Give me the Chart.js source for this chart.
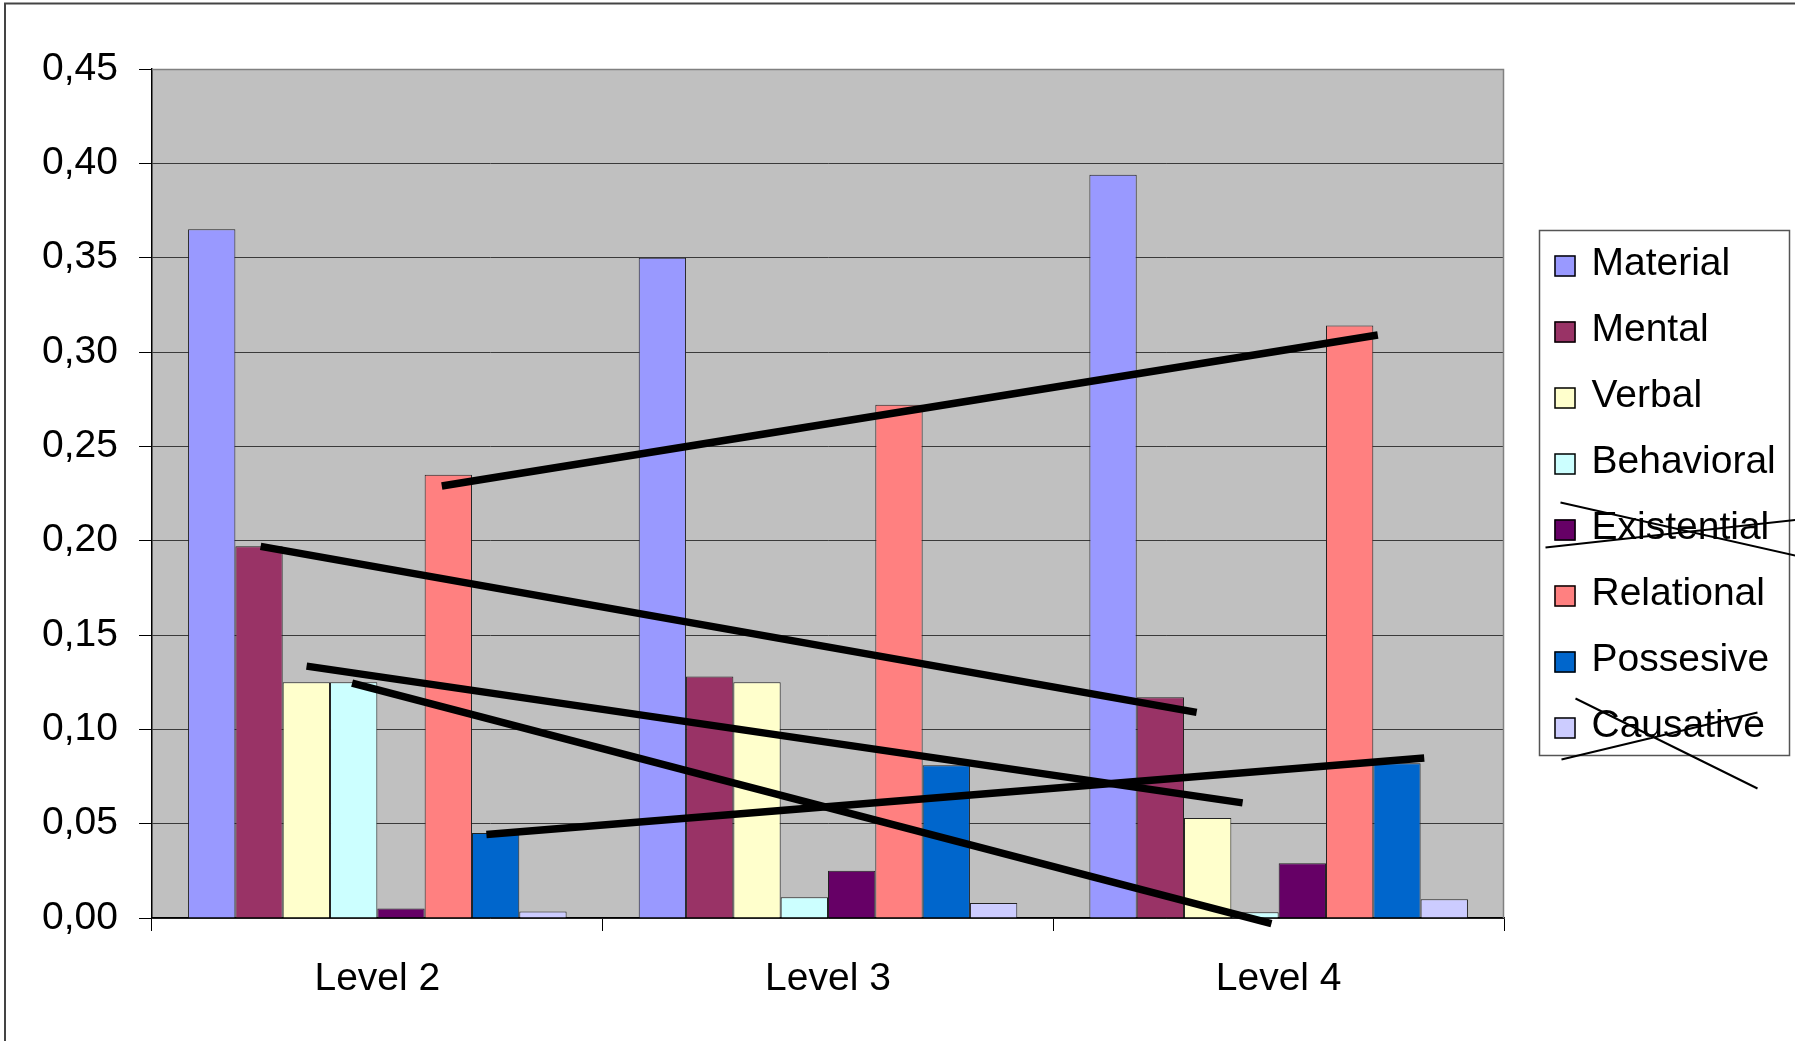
<!DOCTYPE html>
<html>
<head>
<meta charset="utf-8">
<title>Process types by level</title>
<script src="https://cdn.jsdelivr.net/npm/chart.js@4.4.0/dist/chart.umd.min.js"></script>
<style>
  html, body { margin: 0; padding: 0; background: #ffffff; }
  #wrap { position: relative; width: 1795px; height: 1041px; overflow: hidden; }
  canvas { display: block; }
</style>
</head>
<body>
<div id="wrap"><canvas id="chart" width="1795" height="1041" style="width:1795px;height:1041px"></canvas></div>
<script>
// ---- data ----
const categories = ['Level 2', 'Level 3', 'Level 4'];

const material    = [0.365, 0.350, 0.394];
const mental      = [0.197, 0.128, 0.117];
const verbal      = [0.125, 0.125, 0.053];
const behavioral  = [0.125, 0.011, 0.003];
const existential = [0.005, 0.025, 0.029];
const relational  = [0.235, 0.272, 0.314];
const possesive   = [0.045, 0.081, 0.082];
const causative   = [0.0035, 0.008, 0.010];

const seriesNames  = ['Material', 'Mental', 'Verbal', 'Behavioral', 'Existential', 'Relational', 'Possesive', 'Causative'];
const seriesValues = [material, mental, verbal, behavioral, existential, relational, possesive, causative];
const seriesColors = ['#9999FF', '#993366', '#FFFFCC', '#CCFFFF', '#660066', '#FF8080', '#0066CC', '#CCCCFF'];

const yTicks = [0, 0.05, 0.10, 0.15, 0.20, 0.25, 0.30, 0.35, 0.40, 0.45];

// Hand-drawn trend strokes: endpoints as [category position, value]
const trendRelational = [[0.143, 0.229], [2.220, 0.309]];
const trendMental     = [[-0.259, 0.197], [1.818, 0.109]];
const trendVerbal     = [[-0.157, 0.1335], [1.920, 0.061]];
const trendBehavioral = [[-0.056, 0.1245], [1.984, -0.003]];
const trendPossesive  = [[0.242, 0.0443], [2.323, 0.0848]];
const trendLines = [trendRelational, trendMental, trendVerbal, trendBehavioral, trendPossesive];

// Legend entries that are crossed out
const struckItems = ['Existential', 'Causative'];

// ---- drawing ----
const FONT = "'Liberation Sans', Arial, sans-serif";

const frameAndBackground = {
  id: 'frameAndBackground',
  beforeDraw(chart) {
    const { ctx, chartArea: a } = chart;
    ctx.save();
    ctx.fillStyle = '#ffffff';
    ctx.fillRect(0, 0, chart.width, chart.height);
    // outer chart frame (left and top edges visible)
    ctx.strokeStyle = '#444444';
    ctx.lineWidth = 2;
    ctx.beginPath();
    ctx.moveTo(5, chart.height + 5);
    ctx.lineTo(5, 3.5);
    ctx.lineTo(chart.width + 5, 3.5);
    ctx.stroke();
    // plot area fill
    ctx.fillStyle = '#C0C0C0';
    ctx.fillRect(a.left, a.top, a.right - a.left, a.bottom - a.top);
    ctx.restore();
  },
  afterDatasetsDraw(chart) {
    const { ctx, chartArea: a } = chart;
    ctx.save();
    ctx.strokeStyle = '#808080';
    ctx.lineWidth = 1.5;
    ctx.beginPath();
    ctx.moveTo(a.left, a.top + 0.5);
    ctx.lineTo(a.right - 0.5, a.top + 0.5);
    ctx.lineTo(a.right - 0.5, a.bottom);
    ctx.stroke();
    ctx.restore();
  }
};

const trendStrokes = {
  id: 'trendStrokes',
  afterDatasetsDraw(chart) {
    const { ctx } = chart;
    const xs = chart.scales.x, ys = chart.scales.y;
    ctx.save();
    ctx.strokeStyle = '#000000';
    ctx.lineWidth = 7.5;
    ctx.lineCap = 'butt';
    trendLines.forEach(seg => {
      ctx.beginPath();
      ctx.moveTo(xs.getPixelForValue(seg[0][0]), ys.getPixelForValue(seg[0][1]));
      ctx.lineTo(xs.getPixelForValue(seg[1][0]), ys.getPixelForValue(seg[1][1]));
      ctx.stroke();
    });
    ctx.restore();
  }
};

const boxedLegend = {
  id: 'boxedLegend',
  afterDraw(chart) {
    const { ctx, chartArea: a } = chart;
    const left = a.right + 35.5, top = a.top + 161.5;
    const width = 250, height = 525;
    const rowGap = 66, firstRow = 35;
    ctx.save();
    ctx.fillStyle = '#ffffff';
    ctx.fillRect(left, top, width, height);
    ctx.strokeStyle = '#555555';
    ctx.lineWidth = 1.5;
    ctx.strokeRect(left, top, width, height);

    ctx.font = '39px ' + FONT;
    ctx.textBaseline = 'middle';
    ctx.textAlign = 'left';
    chart.data.datasets.forEach((ds, i) => {
      const cy = top + firstRow + i * rowGap;
      ctx.fillStyle = ds.backgroundColor;
      ctx.fillRect(left + 15, cy - 10, 21, 21);
      ctx.strokeStyle = '#000000';
      ctx.lineWidth = 1.5;
      ctx.strokeRect(left + 15.5, cy - 9.5, 20, 20);
      ctx.fillStyle = '#000000';
      ctx.fillText(ds.label, left + 52, cy - 1);

      if (struckItems.includes(ds.label)) {
        ctx.strokeStyle = '#000000';
        ctx.lineWidth = 2;
        ctx.beginPath();
        if (ds.label === 'Existential') {
          ctx.moveTo(left + 21, cy - 27); ctx.lineTo(left + 260, cy + 27);
          ctx.moveTo(left + 6, cy + 18);  ctx.lineTo(left + 260, cy - 10);
        } else {
          ctx.moveTo(left + 36, cy - 29); ctx.lineTo(left + 218, cy + 61);
          ctx.moveTo(left + 22, cy + 32); ctx.lineTo(left + 218, cy - 15);
        }
        ctx.stroke();
      }
    });
    ctx.restore();
  }
};

const datasets = seriesNames.map((name, i) => ({
  label: name,
  data: seriesValues[i],
  backgroundColor: seriesColors[i],
  borderColor: '#222222',
  borderWidth: 1,
  borderSkipped: 'start',
  categoryPercentage: 0.84,
  barPercentage: 1.0
}));

new Chart(document.getElementById('chart'), {
  type: 'bar',
  data: { labels: categories, datasets },
  options: {
    responsive: false,
    animation: false,
    devicePixelRatio: 1,
    layout: { padding: { left: 0, top: 69, right: 291, bottom: 0 } },
    plugins: {
      legend: { display: false },
      tooltip: { enabled: false },
      title: { display: false }
    },
    scales: {
      x: {
        offset: true,
        grid: { offset: true, drawOnChartArea: false, drawTicks: true, tickLength: 13, color: '#000000', lineWidth: 1 },
        border: { display: true, color: '#000000', width: 1.5 },
        ticks: { color: '#000000', padding: 25, font: { family: FONT, size: 39 }, maxRotation: 0 },
        afterFit(scale) { scale.height = 123; }
      },
      y: {
        min: 0,
        max: 0.45,
        afterBuildTicks(scale) { scale.ticks = yTicks.map(v => ({ value: v })); },
        ticks: {
          color: '#000000',
          padding: 21,
          font: { family: FONT, size: 39 },
          callback: v => Number(v).toFixed(2).replace('.', ',')
        },
        grid: { color: '#3a3a3a', lineWidth: 1, drawTicks: true, tickLength: 13, tickColor: '#000000' },
        border: { display: true, color: '#000000', width: 1.5 },
        afterFit(scale) { scale.width = 152; }
      }
    }
  },
  plugins: [frameAndBackground, trendStrokes, boxedLegend]
});
</script>
</body>
</html>
